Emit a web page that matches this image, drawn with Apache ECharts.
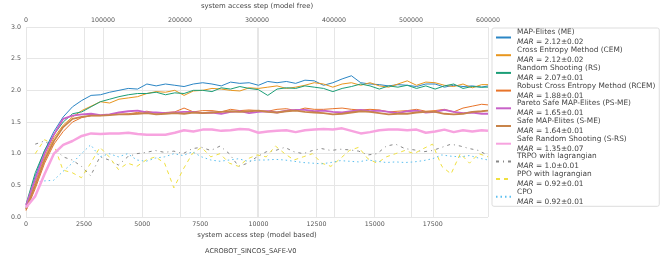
<!DOCTYPE html>
<html><head><meta charset="utf-8">
<script src="https://cdn.jsdelivr.net/npm/echarts@6/dist/echarts.min.js"></script>
<style>html,body{margin:0;padding:0;background:#fff}#c{width:665px;height:258px}</style>
</head><body><div id="c"></div>
<script>
// model-based steps (bottom axis)
const mbSteps = [];
for (let i = 0; i < 50; i++) mbSteps.push(i * 400);
mbSteps.push(19875);
// model-free steps (top axis)
const mfSteps = [];
for (let i = 1; i <= 50; i++) mfSteps.push(i * 12000);

const seriesNames = ["MAP-Elites (ME)","Cross Entropy Method (CEM)","Random Shooting (RS)","Robust Cross Entropy Method (RCEM)","Pareto Safe MAP-Elites (PS-ME)","Safe MAP-Elites (S-ME)","Safe Random Shooting (S-RS)","TRPO with lagrangian","PPO with lagrangian","CPO"];
const marTexts = ["2.12\u00b10.02","2.12\u00b10.02","2.07\u00b10.01","1.88\u00b10.01","1.65\u00b10.01","1.64\u00b10.01","1.35\u00b10.07","1.0\u00b10.01","0.92\u00b10.01","0.92\u00b10.01"];

const me   = [0.15,0.65,1.05,1.35,1.58,1.74,1.84,1.92,1.93,1.97,2.0,2.03,2.02,2.1,2.07,2.1,2.08,2.06,2.1,2.12,2.1,2.07,2.13,2.11,2.12,2.08,2.14,2.12,2.14,2.11,2.16,2.15,2.08,2.12,2.18,2.23,2.12,2.1,2.09,2.07,2.09,2.08,2.06,2.1,2.1,2.05,2.08,2.06,2.07,2.05,2.07];
const cem  = [0.12,0.55,0.95,1.25,1.45,1.58,1.68,1.75,1.82,1.8,1.86,1.88,1.9,1.95,1.98,1.97,2.0,1.92,1.99,2.0,2.03,2.02,2.0,1.99,2.04,2.03,2.05,2.07,2.03,2.05,2.08,2.12,2.1,2.05,2.1,2.12,2.08,2.12,2.07,2.05,2.1,2.15,2.08,2.13,2.12,2.08,2.06,2.1,2.04,2.09,2.09];
const rs   = [0.2,0.7,1.05,1.3,1.5,1.63,1.66,1.74,1.82,1.86,1.9,1.93,1.95,1.95,1.97,1.93,1.96,1.95,2.0,2.0,1.98,2.04,2.02,2.06,2.03,2.01,1.92,2.02,2.04,2.03,2.07,2.05,2.03,1.98,2.03,2.06,2.1,2.07,2.02,2.07,2.05,2.08,2.03,2.07,2.02,2.07,2.1,2.03,2.06,2.05,2.05];
const rcem = [0.1,0.45,0.85,1.15,1.35,1.5,1.57,1.6,1.6,1.62,1.62,1.63,1.65,1.67,1.64,1.65,1.66,1.72,1.66,1.68,1.68,1.66,1.7,1.68,1.69,1.68,1.67,1.7,1.71,1.68,1.72,1.7,1.7,1.71,1.72,1.7,1.69,1.7,1.69,1.66,1.67,1.68,1.7,1.67,1.68,1.7,1.66,1.72,1.75,1.78,1.77];
const psme = [0.18,0.6,1.0,1.3,1.55,1.6,1.62,1.63,1.61,1.62,1.65,1.67,1.68,1.65,1.65,1.64,1.65,1.66,1.66,1.64,1.65,1.63,1.66,1.67,1.64,1.66,1.67,1.65,1.68,1.69,1.69,1.67,1.68,1.66,1.65,1.67,1.69,1.67,1.68,1.66,1.64,1.67,1.68,1.65,1.66,1.69,1.66,1.64,1.65,1.63,1.63];
const sme  = [0.12,0.5,0.9,1.2,1.42,1.55,1.58,1.6,1.6,1.61,1.62,1.62,1.63,1.64,1.62,1.63,1.64,1.63,1.65,1.64,1.65,1.66,1.67,1.66,1.67,1.68,1.66,1.65,1.67,1.68,1.66,1.65,1.64,1.62,1.63,1.65,1.67,1.66,1.64,1.62,1.63,1.63,1.65,1.66,1.66,1.63,1.62,1.63,1.66,1.67,1.68];
const srs  = [0.15,0.33,0.68,1.0,1.14,1.2,1.28,1.32,1.31,1.32,1.32,1.33,1.31,1.3,1.3,1.3,1.33,1.37,1.35,1.38,1.38,1.36,1.37,1.39,1.38,1.33,1.35,1.36,1.37,1.34,1.37,1.38,1.39,1.38,1.4,1.36,1.32,1.34,1.37,1.38,1.38,1.37,1.38,1.33,1.35,1.38,1.34,1.37,1.35,1.37,1.36];
const trpo = [1.15,1.2,1.1,0.95,0.9,0.8,0.65,0.95,0.9,0.82,0.95,1.0,1.02,1.05,1.02,1.04,1.0,1.08,1.1,1.05,1.12,1.0,0.8,0.85,0.95,1.03,1.05,1.1,1.03,1.0,1.05,1.08,1.05,1.07,1.06,1.04,0.98,1.0,1.12,1.15,1.08,1.06,1.03,1.05,1.1,1.15,1.12,1.08,1.05,0.97];
const ppo  = [1.0,1.22,1.15,0.74,0.7,0.62,0.85,1.1,0.95,0.75,0.85,0.8,0.9,0.95,0.85,0.46,0.75,1.0,1.1,0.95,1.0,0.85,0.8,0.92,0.98,0.95,1.12,1.0,0.9,0.95,1.0,0.85,0.8,0.92,1.05,1.1,0.92,0.85,0.95,1.0,1.05,1.0,1.08,1.15,0.8,0.68,1.0,0.85,1.0,0.95];
const cpo  = [0.55,0.57,0.58,0.72,0.85,1.0,1.14,0.95,1.0,0.95,1.0,0.9,0.88,0.93,0.95,1.0,0.97,1.03,0.95,0.9,0.88,0.9,0.92,0.88,0.9,0.9,0.91,0.9,0.88,0.86,0.85,0.84,0.86,0.89,0.88,0.87,0.9,0.88,0.86,0.87,0.86,0.87,0.89,0.92,0.98,0.96,0.95,0.97,0.93,0.9];

const colors = ['#2b86c5','#e8961e','#1b9e77','#e8742a','#c862c8','#c8844a','#f7a3df','#888888','#f0e040','#5cc0f0'];
const widths = [1,1,1,1,1.8,1.8,2.5,1,1,1];
const types  = ['solid','solid','solid','solid','solid','solid','solid',[3,4,1,4],[4,4],[1.5,3]];
const values = [me,cem,rs,rcem,psme,sme,srs,trpo,ppo,cpo];

function zip(xs, ys){ const n=Math.min(xs.length, ys.length); const o=[]; for(let i=0;i<n;i++) o.push([xs[i], ys[i]]); return o; }

const series = values.map((v,i)=>({
  name: seriesNames[i], type:'line', showSymbol:false, symbol:'none', smooth:false,
  xAxisIndex: i>=7 ? 1 : 0,
  data: i>=7 ? zip(mfSteps, v) : zip(mbSteps, v),
  lineStyle:{color:colors[i], width:widths[i], type:types[i]},
  itemStyle:{color:colors[i]},
  z: i>=7 ? 1 : 2,
  animation:false
}));

const chart = echarts.init(document.getElementById('c'), null, {renderer:'canvas'});
const lab = {color:'#555', fontSize:6.3, fontFamily:'DejaVu Sans'};
const nm = {color:'#444', fontSize:6.9, fontFamily:'DejaVu Sans'};
const plain = v => String(v);
chart.setOption({
  backgroundColor:'#fff',
  animation:false,
  title:{text:'ACROBOT_SINCOS_SAFE-V0', left:200, top:243, textStyle:{color:'#444', fontSize:6.6, fontWeight:'normal', fontFamily:'DejaVu Sans'}},
  grid:{left:26, right:177, top:27, bottom:41, containLabel:false, outerBoundsMode:'none'},
  xAxis:[
    {type:'value', position:'bottom', min:0, max:19875, interval:2500,
     name:'system access step (model based)', nameLocation:'middle', nameGap:11, nameTextStyle:nm,
     axisLine:{show:false}, axisTick:{show:false},
     axisLabel:Object.assign({margin:4, showMaxLabel:false, formatter:plain}, lab),
     splitLine:{show:true, lineStyle:{color:'#e6e6e6', width:1}}},
    {type:'value', position:'top', min:0, max:600000, interval:100000,
     name:'system access step (model free)', nameLocation:'middle', nameGap:17, nameTextStyle:nm,
     axisLine:{show:false}, axisTick:{show:false},
     axisLabel:Object.assign({margin:4, formatter:plain}, lab),
     splitLine:{show:true, lineStyle:{color:'#e6e6e6', width:1}}}
  ],
  yAxis:{type:'value', min:0, max:3, interval:0.5,
     name:'Mean reward', nameLocation:'middle', nameGap:18, nameRotate:90, nameTextStyle:nm,
     axisLine:{show:false}, axisTick:{show:false},
     axisLabel:Object.assign({margin:5, formatter:v=>v.toFixed(1)}, lab),
     splitLine:{show:true, lineStyle:{color:'#e6e6e6', width:1}}},
  legend:{
    orient:'vertical', left:492, top:28, padding:[1,4,1,3], itemGap:0.7,
    itemWidth:15, itemHeight:8, selectedMode:false,
    borderColor:'#dddddd', borderWidth:1, borderRadius:2, backgroundColor:'#fff',
    itemStyle:{opacity:0},
    data: seriesNames,
    formatter: name => { const i = seriesNames.indexOf(name); return '{n|'+name+'}\n{i|MAR}{v| = '+marTexts[i]+'}'; },
    textStyle:{color:'#444', fontSize:7.4, fontFamily:'DejaVu Sans', padding:[0,0,0,1],
      rich:{n:{fontSize:7.4, lineHeight:10, color:'#444', fontFamily:'DejaVu Sans'},
            i:{fontSize:7.4, lineHeight:10, color:'#444', fontStyle:'italic', fontFamily:'DejaVu Sans'},
            v:{fontSize:7.4, lineHeight:10, color:'#444', fontFamily:'DejaVu Sans'}}}
  },
  series: series
});
</script></body></html>
